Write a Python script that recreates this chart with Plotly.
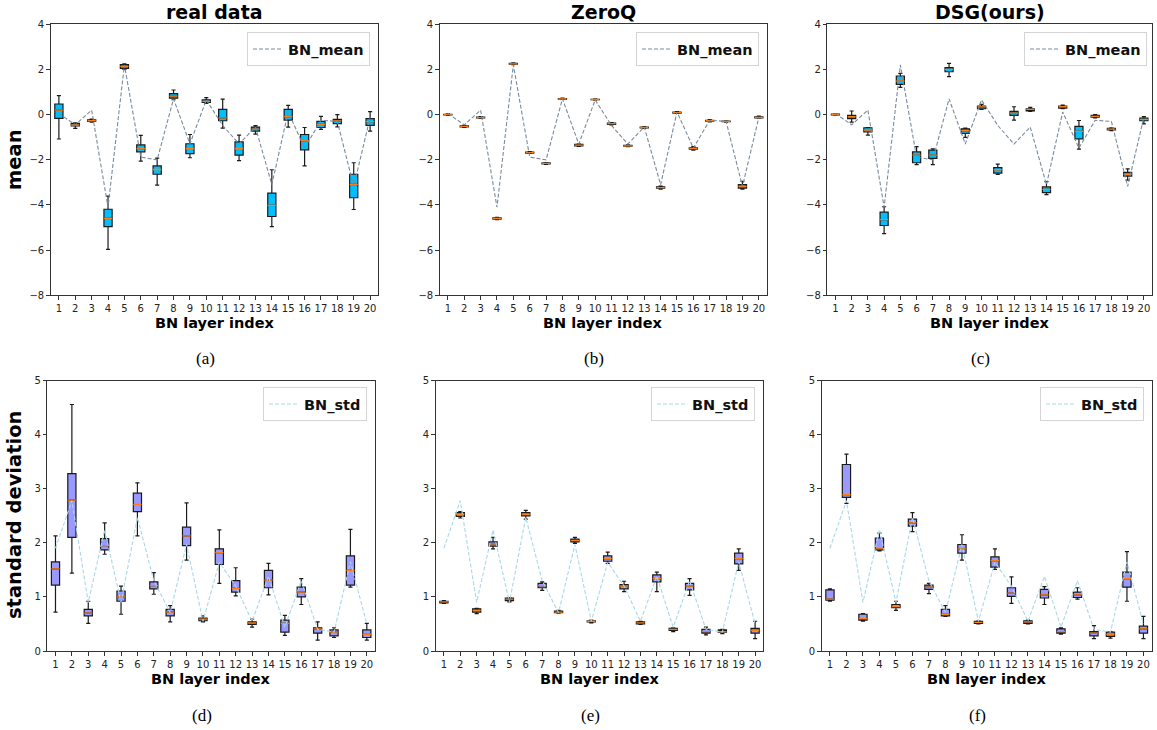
import plotly.graph_objects as go

# ---------------- data ----------------
layers = list(range(1, 21))
layer_labels = [str(i) for i in layers]
mean_ticks = [-8, -6, -4, -2, 0, 2, 4]
std_ticks = [0, 1, 2, 3, 4, 5]

panel_titles = ["real data", "ZeroQ", "DSG(ours)"]
captions = ["(a)", "(b)", "(c)", "(d)", "(e)", "(f)"]

# reference dashed lines (real data BN statistics)
bn_mean_line = [0.05, -0.45, 0.2, -4.1, 2.2, -1.88, -2.0, 0.7, -1.3, 0.65,
                -0.48, -1.3, -0.55, -3.1, 0.12, -1.48, -0.25, -0.3, -3.18, -0.12]
bn_std_line = [1.9, 2.78, 0.9, 2.24, 0.9, 2.47, 1.3, 0.71, 1.97, 0.55,
               1.64, 1.2, 0.55, 1.38, 0.44, 1.3, 0.4, 0.35, 1.65, 0.5]

# (a) real data - mean
real_mean_low = [-1.08, -0.61, -0.33, -5.97, 2.0, -2.06, -3.12, 0.66, -1.91, 0.5,
                 -0.6, -2.04, -0.86, -4.96, -0.55, -2.27, -0.65, -0.54, -4.2, -0.73]
real_mean_q1 = [-0.17, -0.5, -0.3, -4.96, 2.05, -1.65, -2.64, 0.73, -1.73, 0.54,
                -0.27, -1.79, -0.73, -4.51, -0.24, -1.56, -0.57, -0.4, -3.68, -0.48]
real_mean_med = [0.2, -0.46, -0.27, -4.59, 2.14, -1.51, -2.43, 0.82, -1.5, 0.59,
                 -0.14, -1.5, -0.64, -4.02, -0.09, -1.15, -0.43, -0.28, -3.09, -0.31]
real_mean_q3 = [0.47, -0.39, -0.23, -4.19, 2.21, -1.34, -2.27, 0.93, -1.29, 0.66,
                0.23, -1.21, -0.55, -3.48, 0.23, -0.88, -0.3, -0.21, -2.64, -0.18]
real_mean_high = [0.84, -0.36, -0.2, -3.61, 2.25, -0.92, -1.93, 1.09, -0.88, 0.75,
                  0.69, -0.91, -0.49, -2.44, 0.41, -0.57, -0.08, 0.0, -2.13, 0.13]

# (b) ZeroQ - mean
zq_mean_low = [-0.03, -0.56, -0.17, -4.65, 2.21, -1.72, -2.2, 0.67, -1.41, 0.64,
               -0.45, -1.42, -0.61, -3.3, 0.05, -1.57, -0.32, -0.33, -3.3, -0.16]
zq_mean_q1 = [-0.01, -0.54, -0.15, -4.63, 2.23, -1.7, -2.18, 0.69, -1.38, 0.66,
              -0.43, -1.4, -0.59, -3.26, 0.07, -1.53, -0.29, -0.31, -3.25, -0.14]
zq_mean_med = [0.0, -0.52, -0.13, -4.6, 2.25, -1.68, -2.16, 0.7, -1.35, 0.67,
               -0.4, -1.38, -0.57, -3.23, 0.09, -1.5, -0.27, -0.3, -3.18, -0.12]
zq_mean_q3 = [0.01, -0.5, -0.11, -4.57, 2.27, -1.66, -2.14, 0.71, -1.32, 0.68,
              -0.37, -1.36, -0.55, -3.2, 0.11, -1.47, -0.25, -0.29, -3.1, -0.1]
zq_mean_high = [0.03, -0.48, -0.09, -4.55, 2.29, -1.64, -2.12, 0.73, -1.29, 0.7,
                -0.35, -1.34, -0.53, -3.17, 0.13, -1.42, -0.22, -0.27, -2.95, -0.06]

# (c) DSG - mean
dsg_mean_low = [-0.02, -0.33, -0.91, -5.27, 1.21, -2.21, -2.21, 1.68, -1.01, 0.23,
                -2.65, -0.24, 0.14, -3.54, 0.26, -1.53, -0.14, -0.71, -2.9, -0.41]
dsg_mean_q1 = [-0.01, -0.18, -0.77, -4.91, 1.34, -2.13, -1.94, 1.9, -0.83, 0.26,
               -2.59, -0.03, 0.17, -3.45, 0.29, -1.07, -0.11, -0.68, -2.72, -0.27]
dsg_mean_med = [0.01, -0.09, -0.68, -4.65, 1.49, -1.79, -1.79, 2.0, -0.71, 0.34,
                -2.44, 0.07, 0.23, -3.31, 0.35, -0.74, -0.08, -0.64, -2.64, -0.21]
dsg_mean_q3 = [0.02, -0.03, -0.58, -4.32, 1.71, -1.65, -1.57, 2.08, -0.63, 0.38,
               -2.35, 0.14, 0.26, -3.2, 0.38, -0.52, -0.03, -0.61, -2.56, -0.15]
dsg_mean_high = [0.04, 0.16, -0.57, -4.08, 1.83, -1.42, -1.51, 2.27, -0.6, 0.45,
                 -2.19, 0.35, 0.32, -2.97, 0.42, -0.26, 0.0, -0.58, -2.4, -0.09]

# (d) real data - std
real_std_low = [0.72, 1.44, 0.51, 1.79, 0.68, 2.13, 1.05, 0.54, 1.68, 0.54,
                1.25, 1.02, 0.44, 1.04, 0.29, 0.86, 0.2, 0.25, 1.18, 0.2]
real_std_q1 = [1.22, 2.1, 0.65, 1.87, 0.92, 2.58, 1.15, 0.65, 1.95, 0.56,
               1.6, 1.09, 0.49, 1.17, 0.35, 1.0, 0.33, 0.28, 1.22, 0.25]
real_std_med = [1.52, 2.79, 0.7, 1.95, 1.0, 2.71, 1.21, 0.72, 2.13, 0.59,
                1.82, 1.16, 0.52, 1.31, 0.51, 1.09, 0.41, 0.35, 1.49, 0.31]
real_std_q3 = [1.65, 3.28, 0.77, 2.08, 1.11, 2.92, 1.28, 0.77, 2.29, 0.61,
               1.89, 1.3, 0.54, 1.49, 0.57, 1.18, 0.43, 0.39, 1.76, 0.39]
real_std_high = [2.13, 4.56, 0.92, 2.37, 1.2, 3.11, 1.45, 0.84, 2.74, 0.65,
                 2.24, 1.54, 0.59, 1.62, 0.66, 1.34, 0.54, 0.43, 2.25, 0.51]

# (e) ZeroQ - std
zq_std_low = [0.88, 2.46, 0.69, 1.89, 0.91, 2.44, 1.12, 0.7, 1.99, 0.52,
              1.62, 1.1, 0.49, 1.1, 0.36, 1.03, 0.3, 0.32, 1.49, 0.23]
zq_std_q1 = [0.89, 2.49, 0.72, 1.94, 0.93, 2.5, 1.17, 0.71, 2.02, 0.54,
             1.66, 1.15, 0.5, 1.28, 0.38, 1.13, 0.33, 0.35, 1.61, 0.33]
zq_std_med = [0.91, 2.53, 0.75, 1.98, 0.96, 2.53, 1.21, 0.72, 2.04, 0.55,
              1.71, 1.2, 0.52, 1.34, 0.4, 1.2, 0.36, 0.36, 1.71, 0.38]
zq_std_q3 = [0.92, 2.56, 0.78, 2.02, 0.98, 2.56, 1.25, 0.74, 2.07, 0.56,
             1.76, 1.23, 0.54, 1.41, 0.42, 1.25, 0.4, 0.39, 1.81, 0.42]
zq_std_high = [0.93, 2.58, 0.79, 2.1, 0.99, 2.6, 1.28, 0.75, 2.1, 0.57,
               1.83, 1.29, 0.55, 1.46, 0.43, 1.34, 0.44, 0.4, 1.89, 0.55]

# (f) DSG - std
dsg_std_low = [0.92, 2.73, 0.55, 1.85, 0.75, 2.21, 1.06, 0.64, 1.68, 0.5,
               1.51, 0.88, 0.5, 0.86, 0.31, 0.96, 0.23, 0.24, 0.92, 0.23]
dsg_std_q1 = [0.94, 2.84, 0.57, 1.87, 0.8, 2.31, 1.14, 0.65, 1.81, 0.51,
              1.55, 1.01, 0.51, 0.98, 0.33, 0.99, 0.28, 0.27, 1.18, 0.33]
dsg_std_med = [0.96, 2.89, 0.6, 1.89, 0.82, 2.37, 1.18, 0.68, 1.89, 0.53,
               1.67, 1.07, 0.54, 1.04, 0.36, 1.04, 0.33, 0.31, 1.34, 0.41]
dsg_std_q3 = [1.13, 3.45, 0.68, 2.09, 0.86, 2.44, 1.22, 0.77, 1.97, 0.55,
              1.74, 1.17, 0.56, 1.14, 0.41, 1.09, 0.36, 0.35, 1.46, 0.46]
dsg_std_high = [1.15, 3.64, 0.69, 2.18, 0.92, 2.56, 1.25, 0.84, 2.15, 0.56,
                1.89, 1.37, 0.57, 1.19, 0.43, 1.17, 0.47, 0.36, 1.84, 0.64]

# ---------------- figure ----------------
W, H = 1157, 730

MEAN_FILL = "#00BFFF"
STD_FILL = "#9999FF"
MEDIAN_COLOR = "#ff7f0e"
MEAN_LINE = "#7a8a9c"
STD_LINE = "#a9d8e6"

panels = [
    dict(stats=(real_mean_low, real_mean_q1, real_mean_med, real_mean_q3, real_mean_high),
         line=bn_mean_line, name="BN_mean", fill=MEAN_FILL, lc=MEAN_LINE,
         xd=(50.7, 378.3), yd=(24.3, 295.3), yr=[-8, 4], ticks=mean_ticks, leg=(370, 32)),
    dict(stats=(zq_mean_low, zq_mean_q1, zq_mean_med, zq_mean_q3, zq_mean_high),
         line=bn_mean_line, name="BN_mean", fill=MEAN_FILL, lc=MEAN_LINE,
         xd=(439.7, 767.0), yd=(24.3, 295.3), yr=[-8, 4], ticks=mean_ticks, leg=(759, 32)),
    dict(stats=(dsg_mean_low, dsg_mean_q1, dsg_mean_med, dsg_mean_q3, dsg_mean_high),
         line=bn_mean_line, name="BN_mean", fill=MEAN_FILL, lc=MEAN_LINE,
         xd=(827.3, 1152.0), yd=(24.3, 295.3), yr=[-8, 4], ticks=mean_ticks, leg=(1147, 32)),
    dict(stats=(real_std_low, real_std_q1, real_std_med, real_std_q3, real_std_high),
         line=bn_std_line, name="BN_std", fill=STD_FILL, lc=STD_LINE,
         xd=(47.3, 375.0), yd=(380.7, 651.0), yr=[0, 5], ticks=std_ticks, leg=(367, 387)),
    dict(stats=(zq_std_low, zq_std_q1, zq_std_med, zq_std_q3, zq_std_high),
         line=bn_std_line, name="BN_std", fill=STD_FILL, lc=STD_LINE,
         xd=(435.7, 763.3), yd=(380.7, 651.0), yr=[0, 5], ticks=std_ticks, leg=(755, 387)),
    dict(stats=(dsg_std_low, dsg_std_q1, dsg_std_med, dsg_std_q3, dsg_std_high),
         line=bn_std_line, name="BN_std", fill=STD_FILL, lc=STD_LINE,
         xd=(821.7, 1151.7), yd=(380.7, 651.0), yr=[0, 5], ticks=std_ticks, leg=(1144, 387)),
]

fig = go.Figure()
layout = dict(
    width=W, height=H,
    margin=dict(l=0, r=0, t=0, b=0, autoexpand=False),
    paper_bgcolor="white", plot_bgcolor="white",
    boxmode="overlay",
    showlegend=True,
    annotations=[],
)

tick_font = dict(family="DejaVu Sans", size=10, color="#222222")
legend_font = dict(family="DejaVu Sans", size=14.5, color="#111111", weight="bold")

for i, p in enumerate(panels, start=1):
    xa = "x" if i == 1 else f"x{i}"
    ya = "y" if i == 1 else f"y{i}"
    leg = "legend" if i == 1 else f"legend{i}"
    low, q1, med, q3, high = p["stats"]

    fig.add_trace(go.Box(
        x=layers, lowerfence=low, q1=q1, median=med, q3=q3, upperfence=high,
        xaxis=xa, yaxis=ya, fillcolor=p["fill"],
        line=dict(color="#1a1a1a", width=1.2),
        width=0.5, whiskerwidth=0.5, boxpoints=False,
        showlegend=False, hoverinfo="skip",
    ))
    # orange median bars
    fig.add_trace(go.Box(
        x=layers, lowerfence=med, q1=med, median=med, q3=med, upperfence=med,
        xaxis=xa, yaxis=ya, fillcolor="rgba(0,0,0,0)",
        line=dict(color=MEDIAN_COLOR, width=1.3),
        width=0.5, whiskerwidth=0, boxpoints=False,
        showlegend=False, hoverinfo="skip",
    ))
    fig.add_trace(go.Scatter(
        x=layers, y=p["line"], mode="lines", name=p["name"],
        xaxis=xa, yaxis=ya, legend=leg,
        line=dict(color=p["lc"], width=1.1, dash="4px,2px"),
        hoverinfo="skip",
    ))

    x0, x1 = p["xd"]
    y0, y1 = p["yd"]
    layout["xaxis" if i == 1 else f"xaxis{i}"] = dict(
        domain=[x0 / W, x1 / W], anchor=ya,
        range=[0.5, 20.5], tickmode="array", tickvals=layers, ticktext=layer_labels,
        showline=True, linecolor="#333333", linewidth=1, mirror=True,
        ticks="outside", ticklen=3.5, tickcolor="#333333", tickwidth=1,
        showgrid=False, zeroline=False, tickfont=tick_font, automargin=False,
    )
    layout["yaxis" if i == 1 else f"yaxis{i}"] = dict(
        domain=[1 - y1 / H, 1 - y0 / H], anchor=xa,
        range=p["yr"], tickmode="array", tickvals=p["ticks"],
        showline=True, linecolor="#333333", linewidth=1, mirror=True,
        ticks="outside", ticklen=3.5, tickcolor="#333333", tickwidth=1,
        showgrid=False, zeroline=False, tickfont=tick_font, automargin=False,
    )
    lx, ly = p["leg"]
    layout[leg] = dict(
        x=lx / W, y=1 - ly / H, xanchor="right", yanchor="top",
        xref="paper", yref="paper",
        bgcolor="rgba(255,255,255,0.9)", bordercolor="#d4d4d4", borderwidth=1,
        font=legend_font, itemwidth=30,
    )

    cx = (x0 + x1) / 2
    # x-axis title
    layout["annotations"].append(dict(
        text="BN layer index", x=cx / W, y=1 - (y1 + 27.5) / H,
        xref="paper", yref="paper", xanchor="center", yanchor="middle",
        showarrow=False, font=dict(family="DejaVu Sans", size=14.5, color="black", weight="bold"),
    ))
    # captions
    cap_y = 358 if i <= 3 else 715
    cap_x = cx - 9
    layout["annotations"].append(dict(
        text=captions[i - 1], x=cap_x / W, y=1 - cap_y / H,
        xref="paper", yref="paper", xanchor="center", yanchor="middle",
        showarrow=False, font=dict(family="Liberation Serif", size=17, color="black"),
    ))
    if i <= 3:
        layout["annotations"].append(dict(
            text=panel_titles[i - 1], x=cx / W, y=1 - 12 / H,
            xref="paper", yref="paper", xanchor="center", yanchor="middle",
            showarrow=False, font=dict(family="DejaVu Sans", size=19, color="black", weight="bold"),
        ))

# y-axis titles
layout["annotations"].append(dict(
    text="mean", x=14 / W, y=1 - 160 / H, xref="paper", yref="paper",
    xanchor="center", yanchor="middle", textangle=-90, showarrow=False,
    font=dict(family="DejaVu Sans", size=19.5, color="black", weight="bold"),
))
layout["annotations"].append(dict(
    text="standard deviation", x=14 / W, y=1 - 515 / H, xref="paper", yref="paper",
    xanchor="center", yanchor="middle", textangle=-90, showarrow=False,
    font=dict(family="DejaVu Sans", size=19.5, color="black", weight="bold"),
))

fig.update_layout(**layout)

# remove the browser's default page margin so the figure sits at the window origin
post = "document.body.style.margin='0'; document.body.style.overflow='hidden';"
fig.write_html("out.html", post_script=post, config={"displayModeBar": False})
